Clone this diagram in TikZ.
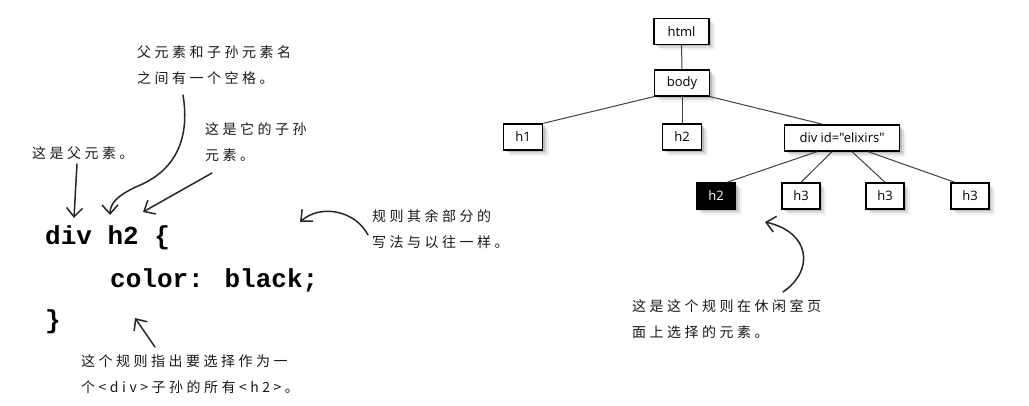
\documentclass[tikz,border=0pt]{standalone}
\usepackage{fontspec}
\setmainfont{Liberation Sans}
\newfontfamily\cjk[LetterSpace=25]{Noto Sans CJK SC}
\newfontfamily\codefont{Liberation Mono}
\newfontfamily\treefont{Open Sans}
\usetikzlibrary{arrows.meta,shadows}
\begin{document}
\begin{tikzpicture}[x=1pt,y=-1pt,
  note/.style={font=\cjk\fontsize{14}{26}\selectfont, text=black!90, align=left, anchor=north west, inner sep=0pt},
  code/.style={font=\codefont\bfseries\fontsize{26}{26}\selectfont, anchor=base west, inner sep=0pt},
  tbox/.style={draw=black, line width=1.3pt, fill=white, text=black,
    font=\treefont\fontsize{13}{13}\selectfont, minimum height=26pt, minimum width=#1, inner sep=2pt,
    drop shadow={shadow xshift=2pt, shadow yshift=-2pt, opacity=.35},
    drop shadow={shadow xshift=4pt, shadow yshift=-4pt, opacity=.2},
    drop shadow={shadow xshift=6pt, shadow yshift=-6pt, opacity=.1}},
  hl/.style={tbox=#1, fill=black, text=white},
  edge/.style={draw=black!75, line width=1pt},
  hand/.style={draw=black!85, line width=1.5pt, line cap=round,
    -{Straight Barb[length=9pt,width=16pt,line width=1.5pt]}}
]
\useasboundingbox (0,0) rectangle (1029,406);

% tree
\node[tbox=55] (html) at (681.5,31.5) {html};
\node[tbox=55] (body) at (682,83) {body};
\node[tbox=39] (h1) at (523,137) {h1};
\node[tbox=39] (h2a) at (682,137) {h2};
\node[tbox=115] (div) at (842,138) {div id="elixirs"};
\node[hl=39] (h2b) at (716,196) {h2};
\node[tbox=38] (h3a) at (801,196) {h3};
\node[tbox=38] (h3b) at (885,196) {h3};
\node[tbox=38] (h3c) at (970,196) {h3};

\draw[edge] (html) -- (body);
\draw[edge] (body.south west) -- (h1.north east);
\draw[edge] (body.south) -- (h2a.north);
\draw[edge] (body.south east) -- ([xshift=-19pt]div.north);
\draw[edge] ([xshift=-25pt]div.south) -- ([xshift=11pt]h2b.north);
\draw[edge] ([xshift=-10pt]div.south) -- (h3a.north);
\draw[edge] ([xshift=10pt]div.south) -- (h3b.north);
\draw[edge] ([xshift=26pt]div.south) -- ([xshift=-15pt]h3c.north);

% code
\node[code] (c1) at (45,245) {div h2 \{};
\node[code] (c2) at (110,288) {color: black;};
\node[code] (c3) at (45,329) {\}};

% notes
\node[note] (a1) at (137,46) {父元素和子孙元素名\\之间有一个空格。};
\node[note] (a2) at (32,146) {这是父元素。};
\node[note] (a3) at (205,122) {这是它的子孙\\元素。};
\node[note] (a4) at (372,209) {规则其余部分的\\写法与以往一样。};
\node[note] (a5) at (81,354) {这个规则指出要选择作为一\\个<div>子孙的所有<h2>。};
\node[note] (a6) at (632,299) {这是这个规则在休闲室页\\面上选择的元素。};

% hand arrows
\coordinate (s1) at (77,164);  \coordinate (e1) at (74,218);
\coordinate (s2) at (183,95);  \coordinate (e2) at (110,215);
\coordinate (s3) at (212,173); \coordinate (e3) at (143,212);
\coordinate (s4) at (368,235); \coordinate (e4) at (300,222);
\coordinate (s5) at (155,347); \coordinate (e5) at (135,318);
\coordinate (s6) at (783,292); \coordinate (e6) at (765,222);

\draw[hand] (s1) -- (e1);
\draw[hand] (s2) .. controls (192,150) and (165,175) .. (138,186) .. controls (118,195) and (110,203) .. (e2);
\draw[hand] (s3) -- (e3);
\draw[hand] (s4) .. controls (355,210) and (320,204) .. (e4);
\draw[hand] (s5) -- (e5);
\draw[hand] (s6) .. controls (815,270) and (810,232) .. (e6);
\end{tikzpicture}
\end{document}
